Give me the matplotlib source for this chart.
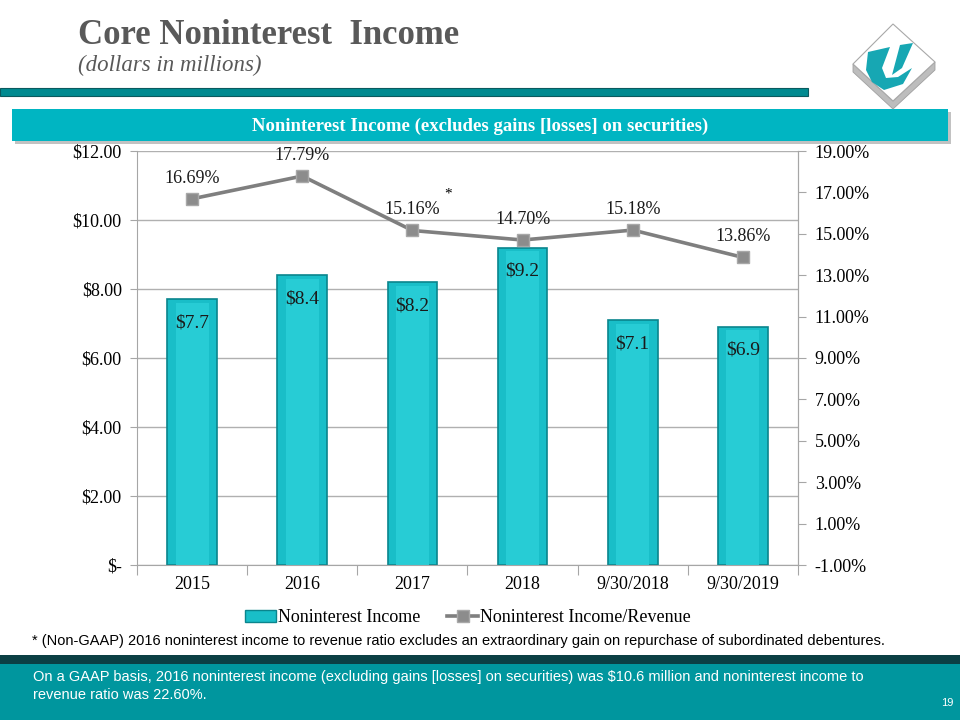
import matplotlib
matplotlib.use("Agg")
import matplotlib.pyplot as plt
from matplotlib.patches import Rectangle, Polygon
from matplotlib.lines import Line2D

# -----------------------------
# data
# -----------------------------
periods = ["2015", "2016", "2017", "2018", "9/30/2018", "9/30/2019"]
income = [7.7, 8.4, 8.2, 9.2, 7.1, 6.9]          # $ millions
ratio = [16.69, 17.79, 15.16, 14.70, 15.18, 13.86]  # percent
left_ticks = [0, 2, 4, 6, 8, 10, 12]
right_ticks = [-1, 1, 3, 5, 7, 9, 11, 13, 15, 17, 19]

serif = "Liberation Serif"
sans = "Liberation Sans"
teal = "#19BEC8"
teal_dark = "#0A858D"
gray = "#7F7F7F"

fig = plt.figure(figsize=(9.6, 7.2), dpi=100)

# background / decoration layer in pixel coords
bg = fig.add_axes([0, 0, 1, 1])
bg.set_xlim(0, 960)
bg.set_ylim(720, 0)
bg.axis("off")

bg.text(78, 35, "Core Noninterest  Income", fontsize=25, fontweight="bold",
        family=serif, color="#595959", va="center")
bg.text(78, 65, "(dollars in millions)", fontsize=16.5, style="italic",
        family=serif, color="#595959", va="center")

# teal rule under title
bg.add_patch(Rectangle((0, 88), 808, 8, facecolor="#008A90", edgecolor="#0A5A5E", lw=0.8))

# banner with shadow
bg.add_patch(Rectangle((15, 112), 936, 32, facecolor="#9A9A9A", edgecolor="none", alpha=0.6))
bg.add_patch(Rectangle((12, 109), 936, 32, facecolor="#00B5C2", edgecolor="none"))
bg.text(480, 126, "Noninterest Income (excludes gains [losses] on securities)",
        fontsize=13.5, fontweight="bold", family=serif, color="white",
        ha="center", va="center")

# logo: bevelled diamond tile with a teal swoosh
bg.add_patch(Polygon([(853, 64), (893, 101), (935, 62), (935, 70), (893, 109), (853, 72)],
                     closed=True, facecolor="#BDBDBD", edgecolor="#A0A0A0", lw=0.6))
bg.add_patch(Polygon([(893, 24), (935, 62), (893, 101), (853, 64)], closed=True,
                     facecolor="white", edgecolor="#A8A8A8", lw=0.8))
bg.add_patch(Polygon([(868, 52), (890, 47), (882, 68), (886, 78), (898, 77), (912, 68),
                      (903, 84), (884, 90), (872, 82), (866, 70)], closed=True,
                     facecolor="#17A7B3", edgecolor="none"))
bg.add_patch(Polygon([(900, 45), (913, 43), (902, 68), (892, 75)], closed=True,
                     facecolor="#17A7B3", edgecolor="none"))

# footnote
bg.text(32, 641, "* (Non-GAAP) 2016 noninterest income to revenue ratio excludes an "
        "extraordinary gain on repurchase of subordinated debentures.",
        fontsize=10.5, family=sans, color="black", va="center")

# bottom bar
bg.add_patch(Rectangle((0, 655), 960, 65, facecolor="#00969E", edgecolor="none"))
bg.add_patch(Rectangle((0, 655), 960, 9, facecolor="#0B3F44", edgecolor="none"))
bg.text(33, 677, "On a GAAP basis, 2016 noninterest income (excluding gains [losses] on "
        "securities) was $10.6 million and noninterest income to",
        fontsize=10.5, family=sans, color="white", va="center")
bg.text(33, 695, "revenue ratio was 22.60%.", fontsize=10.5, family=sans,
        color="white", va="center")
bg.text(941, 703, "19", fontsize=8, family=sans, color="white", va="center")

# -----------------------------
# chart
# -----------------------------
ax = fig.add_axes([137 / 960, (720 - 565) / 720, 661 / 960, 414 / 720])
x = list(range(len(periods)))
ax.bar(x, income, width=0.45, color=teal, edgecolor=teal_dark, lw=1.2, zorder=2)
# lighter face strip to mimic the bevelled bars
ax.bar(x, [v - 0.1 for v in income], width=0.3, color="#27CCD5", edgecolor="none", zorder=2)
for xi, v in zip(x, income):
    ax.text(xi, v - 0.68, "$%.1f" % v, ha="center", va="center", fontsize=14,
            family=serif, color="#1A1A1A", zorder=4)

ax.set_xlim(-0.5, len(periods) - 0.5)
ax.set_ylim(0, 12)
ax.set_yticks(left_ticks)
ax.set_yticklabels(["$-"] + ["$%.2f" % t for t in left_ticks[1:]], family=serif, fontsize=13)
ax.set_xticks([i - 0.5 for i in range(len(periods) + 1)])
ax.set_xticklabels([])
ax.set_xticks(x, minor=True)
ax.set_xticklabels(periods, minor=True, family=serif, fontsize=13)
ax.grid(axis="y", color="#B0B0B0", lw=1, zorder=0)
ax.spines["top"].set_visible(False)
for s in ["left", "right", "bottom"]:
    ax.spines[s].set_color("#A6A6A6")
ax.tick_params(axis="y", colors="#A6A6A6", labelcolor="black", length=5, pad=6)
ax.tick_params(axis="x", which="major", colors="#A6A6A6", length=7)
ax.tick_params(axis="x", which="minor", length=0, pad=8, labelcolor="black")

ax2 = ax.twinx()
ax2.plot(x, ratio, color=gray, lw=2.6, marker="s", markersize=8,
         markerfacecolor="#8C8C8C", markeredgecolor="#A8A8A8", zorder=5)
ax2.set_ylim(-1, 19)
ax2.set_yticks(right_ticks)
ax2.set_yticklabels(["%.2f%%" % t for t in right_ticks], family=serif, fontsize=13)
ax2.spines["top"].set_visible(False)
ax2.spines["right"].set_color("#A6A6A6")
ax2.spines["left"].set_visible(False)
ax2.spines["bottom"].set_visible(False)
ax2.tick_params(axis="y", colors="#A6A6A6", labelcolor="black", length=6, pad=6)

for xi, v in zip(x, ratio):
    ax2.text(xi, v + 1.0, "%.2f%%" % v, ha="center", va="center", fontsize=13,
             family=serif, color="#1A1A1A")
ax2.text(2.32, 16.9, "*", ha="center", va="center", fontsize=11, family=serif)

handles = [Rectangle((0, 0), 1, 1, facecolor=teal, edgecolor=teal_dark),
           Line2D([], [], color=gray, lw=2.6, marker="s", markersize=8,
                  markerfacecolor="#8C8C8C", markeredgecolor="#A8A8A8")]
fig.legend(handles, ["Noninterest Income", "Noninterest Income/Revenue"],
           loc="center", bbox_to_anchor=(468 / 960, 1 - 618 / 720), ncol=2, frameon=False,
           prop={"family": serif, "size": 13}, handlelength=1.7, handleheight=0.6,
           handletextpad=0.1, columnspacing=1.5)

fig.savefig("out.png", dpi=100)
